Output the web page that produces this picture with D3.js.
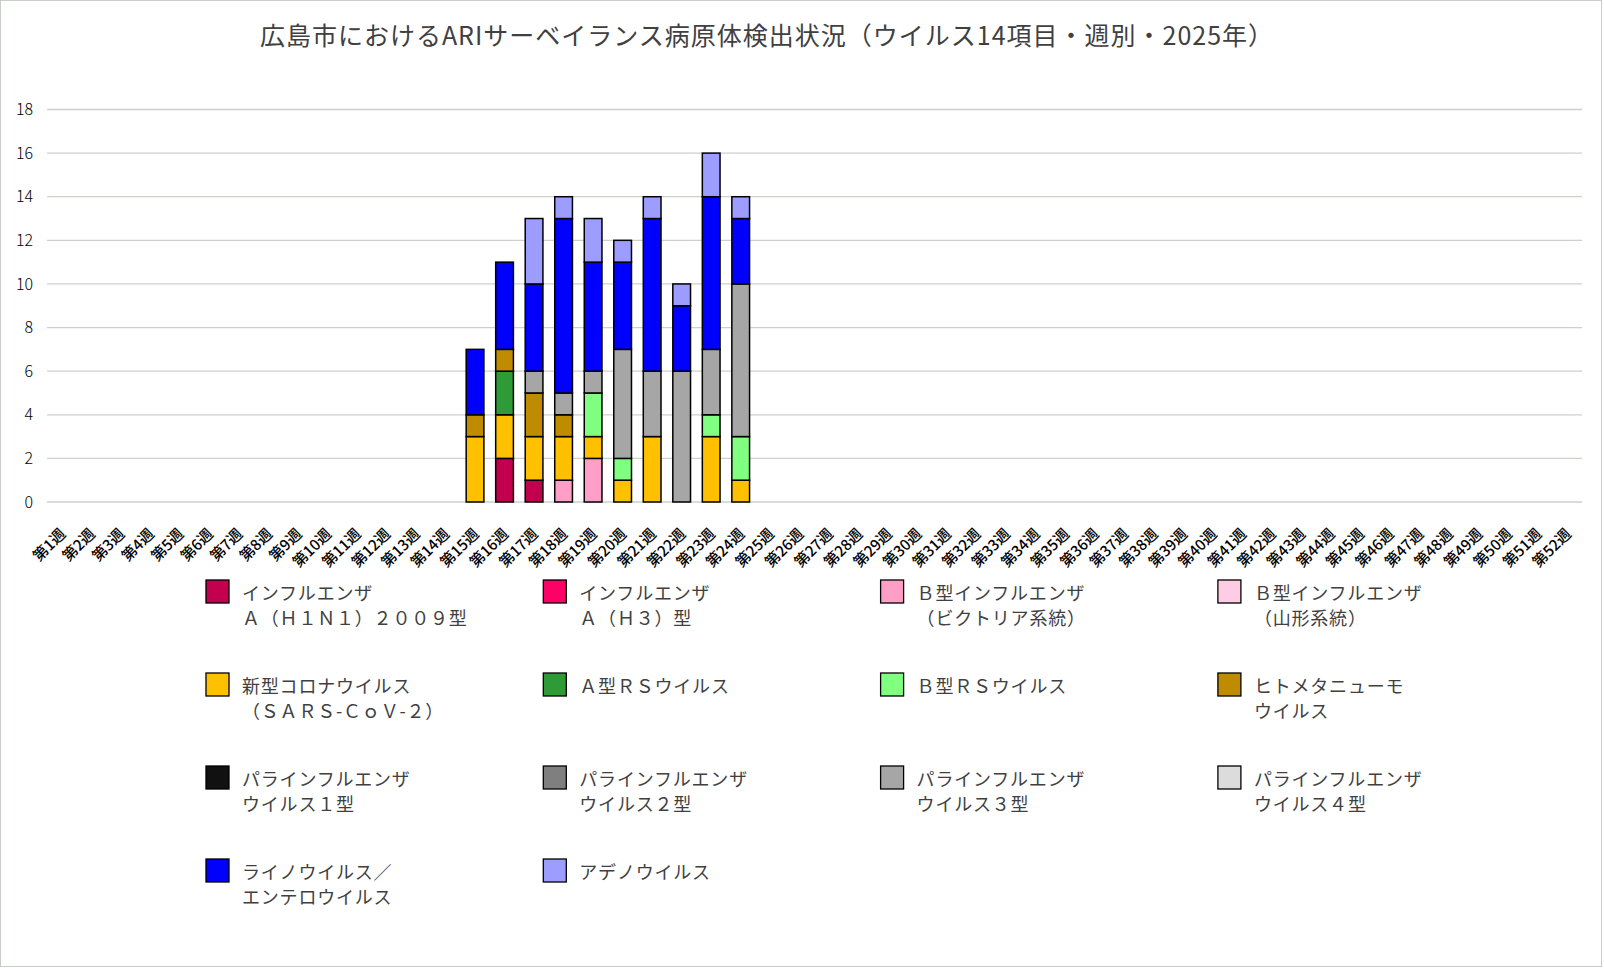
<!DOCTYPE html>
<html>
<head>
<meta charset="utf-8">
<script src="https://cdn.jsdelivr.net/npm/d3@7"></script>
<style>
  body { margin: 0; background: #fff; }
  svg { display: block; font-family: "Noto Sans CJK JP", "Noto Sans", sans-serif; }
</style>
</head>
<body>
<div id="chart"></div>
<script>
// all 52 week categories on the x axis
const weeks = d3.range(1, 53).map(i => "第" + i + "週");
// weeks that have detections
const dataWeeks = ["第15週", "第16週", "第17週", "第18週", "第19週", "第20週", "第21週", "第22週", "第23週", "第24週"];

const seriesNames = [
    "インフルエンザ\nＡ（Ｈ１Ｎ１）２００９型",
    "インフルエンザ\nＡ（Ｈ３）型",
    "Ｂ型インフルエンザ\n（ビクトリア系統）",
    "Ｂ型インフルエンザ\n（山形系統）",
    "新型コロナウイルス\n（ＳＡＲＳ-ＣｏＶ-２）",
    "Ａ型ＲＳウイルス",
    "Ｂ型ＲＳウイルス",
    "ヒトメタニューモ\nウイルス",
    "パラインフルエンザ\nウイルス１型",
    "パラインフルエンザ\nウイルス２型",
    "パラインフルエンザ\nウイルス３型",
    "パラインフルエンザ\nウイルス４型",
    "ライノウイルス／\nエンテロウイルス",
    "アデノウイルス"
];
const seriesColors = ["#C2004E", "#FF0066", "#FF9FC8", "#FFCCE6", "#FFC000", "#2F9B37", "#80FF80",
                      "#BF8C00", "#111111", "#7F7F7F", "#A6A6A6", "#DCDCDC", "#0000FF", "#9D9DFF"];

// counts per week 15..24
const fluH1N1   = [0, 2, 1, 0, 0, 0, 0, 0, 0, 0];
const fluH3     = [0, 0, 0, 0, 0, 0, 0, 0, 0, 0];
const fluBVic   = [0, 0, 0, 1, 2, 0, 0, 0, 0, 0];
const fluBYam   = [0, 0, 0, 0, 0, 0, 0, 0, 0, 0];
const covid     = [3, 2, 2, 2, 1, 1, 3, 0, 3, 1];
const rsA       = [0, 2, 0, 0, 0, 0, 0, 0, 0, 0];
const rsB       = [0, 0, 0, 0, 2, 1, 0, 0, 1, 2];
const hmpv      = [1, 1, 2, 1, 0, 0, 0, 0, 0, 0];
const para1     = [0, 0, 0, 0, 0, 0, 0, 0, 0, 0];
const para2     = [0, 0, 0, 0, 0, 0, 0, 0, 0, 0];
const para3     = [0, 0, 1, 1, 1, 5, 3, 6, 3, 7];
const para4     = [0, 0, 0, 0, 0, 0, 0, 0, 0, 0];
const rhino     = [3, 4, 4, 8, 5, 4, 7, 3, 7, 3];
const adeno     = [0, 0, 3, 1, 2, 1, 1, 1, 2, 1];

const seriesValues = [fluH1N1, fluH3, fluBVic, fluBYam, covid, rsA, rsB, hmpv, para1, para2, para3, para4, rhino, adeno];
const yTicks = [0, 2, 4, 6, 8, 10, 12, 14, 16, 18];

const W = 1604, H = 968;
const svg = d3.select("#chart").append("svg")
    .attr("width", W)
    .attr("height", H);

svg.append("rect")
    .attr("x", 0.5).attr("y", 0.5)
    .attr("width", W - 3).attr("height", H - 2)
    .attr("fill", "#fff")
    .attr("stroke", "#c8cdc8");

svg.append("text")
    .attr("x", 767)
    .attr("y", 34)
    .attr("text-anchor", "middle")
    .attr("dominant-baseline", "central")
    .attr("fill", "#404040")
    .style("font-size", "25px")
    .style("letter-spacing", "1px")
    .text("広島市におけるARIサーベイランス病原体検出状況（ウイルス14項目・週別・2025年）");

// table built from the arrays
const table = dataWeeks.map((w, i) => {
    const row = { week: w };
    seriesNames.forEach((s, j) => { row[s] = seriesValues[j][i]; });
    return row;
});
const stacked = d3.stack().keys(seriesNames)(table);

const xScale = d3.scaleBand()
    .domain(weeks)
    .range([47, 1582])
    .paddingInner(0.4)
    .paddingOuter(0.2);

const yScale = d3.scaleLinear()
    .domain([0, 18])
    .range([502, 109.5]);

// gridlines
svg.append("g")
    .selectAll("line")
    .data(yTicks)
    .enter()
    .append("line")
    .attr("x1", 47)
    .attr("x2", 1582)
    .attr("y1", d => yScale(d))
    .attr("y2", d => yScale(d))
    .attr("stroke", "#ccd1cc")
    .attr("stroke-width", 1.3);

// y axis labels
const yAxis = svg.append("g")
    .attr("transform", "translate(33,0)")
    .call(d3.axisLeft(yScale).tickValues(yTicks).tickSize(0).tickPadding(0));
yAxis.select(".domain").remove();
yAxis.selectAll("text")
    .attr("fill", "#000")
    .style("font-family", "'Noto Sans CJK JP', sans-serif")
    .style("font-size", "16px")
    .style("font-weight", "300");

// bars
svg.append("g")
    .selectAll("g")
    .data(stacked)
    .enter()
    .append("g")
    .attr("fill", (d, i) => seriesColors[i])
    .selectAll("rect")
    .data(d => d.filter(p => p[1] - p[0] > 0))
    .enter()
    .append("rect")
    .attr("x", d => xScale(d.data.week))
    .attr("width", xScale.bandwidth())
    .attr("y", d => yScale(d[1]))
    .attr("height", d => yScale(d[0]) - yScale(d[1]))
    .attr("stroke", "#000")
    .attr("stroke-width", 1.5);

// x axis labels
const xAxis = svg.append("g")
    .attr("transform", "translate(0,502)")
    .call(d3.axisBottom(xScale).tickSize(0).tickPadding(0));
xAxis.select(".domain").remove();
xAxis.selectAll("text")
    .attr("text-anchor", "end")
    .attr("dy", 0)
    .attr("y", 0)
    .attr("transform", d => "translate(" + (xScale.bandwidth() / 2 - 4) + ",33) rotate(-45)")
    .attr("fill", "#000")
    .style("font-family", "'Noto Sans CJK JP', sans-serif")
    .style("font-size", "15px")
    .style("font-weight", "500");

// legend
const legend = svg.append("g")
    .selectAll("g")
    .data(seriesNames)
    .enter()
    .append("g")
    .attr("transform", (d, i) => "translate(" + (206 + (i % 4) * 337.3) + "," + (580 + Math.floor(i / 4) * 93) + ")");

legend.append("rect")
    .attr("width", 23)
    .attr("height", 23)
    .attr("fill", (d, i) => seriesColors[i])
    .attr("stroke", "#000")
    .attr("stroke-width", 1.3);

legend.append("text")
    .attr("x", 36)
    .attr("fill", "#404040")
    .style("font-size", "18px")
    .style("letter-spacing", "0.8px")
    .selectAll("tspan")
    .data(d => d.split("\n"))
    .enter()
    .append("tspan")
    .attr("x", 36)
    .attr("y", (d, i) => 11.5 + i * 25)
    .attr("dominant-baseline", "central")
    .text(d => d);
</script>
</body>
</html>
